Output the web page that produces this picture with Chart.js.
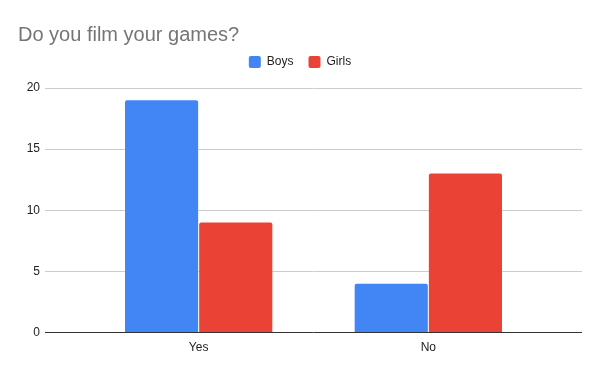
<!DOCTYPE html>
<html>
<head>
<meta charset="utf-8">
<script src="https://cdn.jsdelivr.net/npm/chart.js@4"></script>
<style>
  html, body { margin: 0; padding: 0; background: #fff; }
  #wrap { width: 600px; height: 371px; }
</style>
</head>
<body>
<div id="wrap"><canvas id="filmChart" width="600" height="371"></canvas></div>
<script>
// Chart data
const categories = ['Yes', 'No'];
const boys = [19, 4];
const girls = [9, 13];
const yTicks = [0, 5, 10, 15, 20];

const FONT = 'Arial, "Liberation Sans", sans-serif';

// Add a bit of space under the legend
const legendGap = {
  id: 'legendGap',
  beforeInit(chart) {
    const fit = chart.legend.fit;
    chart.legend.fit = function() {
      fit.bind(chart.legend)();
      this.height += 10;
    };
  }
};

// Squeeze the category axis in from the sides so the groups sit closer together,
// like the Google Sheets original (gridlines still run the full width)
const narrowX = {
  id: 'narrowX',
  afterLayout(chart) {
    const x = chart.scales.x;
    const area = chart.chartArea;
    const inset = (area.right - area.left) * 0.0723;
    x.left = area.left + inset;
    x.right = area.right - inset;
    x.width = x.right - x.left;
    x.configure();
  }
};

new Chart(document.getElementById('filmChart'), {
  type: 'bar',
  data: {
    labels: categories,
    datasets: [
      {
        label: 'Boys',
        data: boys,
        backgroundColor: '#4285f4',
        borderWidth: 0,
        borderRadius: 2,
        categoryPercentage: 0.646,
        barPercentage: 0.986
      },
      {
        label: 'Girls',
        data: girls,
        backgroundColor: '#ea4335',
        borderWidth: 0,
        borderRadius: 2,
        categoryPercentage: 0.646,
        barPercentage: 0.986
      }
    ]
  },
  options: {
    responsive: false,
    animation: false,
    layout: { padding: { left: 18, right: 18, bottom: 16 } },
    plugins: {
      title: {
        display: true,
        text: 'Do you film your games?',
        align: 'start',
        color: '#757575',
        font: { family: FONT, size: 20, weight: 'normal' },
        padding: { top: 23, bottom: -6 }
      },
      legend: {
        labels: {
          color: '#222',
          font: { family: FONT, size: 12 },
          boxWidth: 12,
          boxHeight: 12,
          useBorderRadius: true,
          borderRadius: 2,
          padding: 15
        }
      },
      tooltip: { enabled: false }
    },
    scales: {
      x: {
        grid: { display: false },
        border: { display: false },
        ticks: {
          color: '#222',
          font: { family: FONT, size: 12 },
          padding: 0
        }
      },
      y: {
        min: 0,
        max: 20,
        afterBuildTicks: function(scale) {
          scale.ticks = yTicks.map(v => ({ value: v }));
        },
        afterFit: function(scale) {
          scale.width = 27;
        },
        border: { display: false },
        grid: {
          drawTicks: false,
          color: function(ctx) {
            return ctx.tick && ctx.tick.value === 0 ? '#333' : '#ccc';
          }
        },
        ticks: {
          color: '#222',
          font: { family: FONT, size: 12 },
          padding: 5
        }
      }
    }
  },
  plugins: [legendGap, narrowX]
});
</script>
</body>
</html>
